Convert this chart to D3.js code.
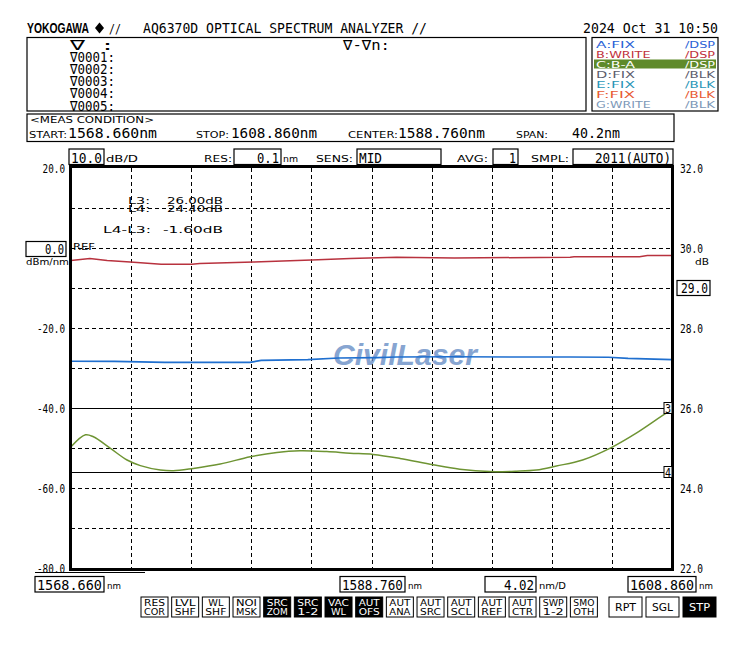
<!DOCTYPE html>
<html><head><meta charset="utf-8">
<script src="https://cdn.jsdelivr.net/npm/d3@7"></script>
<style>html,body{margin:0;padding:0;background:#fff;} svg{display:block}</style>
</head><body><svg id="c" width="734" height="652"></svg>
<script>
// ---------------- DATA ----------------
// Trace A (FIX, blue) – dBm/nm, left scale
const traceA_wl  = [1568.66, 1571.57, 1574.94, 1580.63, 1581.38, 1584.50, 1586.56, 1589.13, 1590.44, 1594.30, 1599.48, 1602.05, 1604.62, 1605.92, 1608.86];
const traceA_dbm = [-28.30, -28.35, -28.60, -28.60, -28.10, -27.90, -27.50, -27.40, -27.25, -27.20, -27.25, -27.25, -27.30, -27.60, -27.90];
// Trace B (WRITE, red) – dBm/nm, left scale
const traceB_wl  = [1568.66, 1569.92, 1571.08, 1572.62, 1574.69, 1576.75, 1577.27, 1580.88, 1584.75, 1587.34, 1590.44, 1594.30, 1602.05, 1602.31, 1606.69, 1607.21, 1608.86];
const traceB_dbm = [-3.10, -2.65, -3.10, -3.50, -4.05, -4.05, -3.85, -3.50, -3.00, -2.60, -2.30, -2.50, -2.30, -2.20, -2.20, -1.90, -1.90];
// Trace C (B-A, green) – dB, right scale
const traceC_wl  = [1568.66, 1569.63, 1570.16, 1571.30, 1572.41, 1573.30, 1574.64, 1575.50, 1576.84, 1578.64, 1580.65, 1582.43, 1583.99, 1585.77, 1587.32, 1588.86, 1590.66, 1592.87, 1594.67, 1596.67, 1598.46, 1599.79, 1601.13, 1602.88, 1604.80, 1606.47, 1608.47, 1608.86];
const traceC_db  = [25.03, 25.33, 25.28, 24.99, 24.70, 24.56, 24.45, 24.43, 24.49, 24.60, 24.78, 24.89, 24.93, 24.91, 24.87, 24.84, 24.74, 24.58, 24.47, 24.41, 24.42, 24.45, 24.55, 24.70, 25.01, 25.37, 25.87, 25.95];
// Line markers (right scale, dB)
const markerNames = ["3", "4"];
const markerVals  = [26.00, 24.40];
// Axis ranges / tick labels
const wlRange = [1568.66, 1608.86];
const leftRange = [-80, 20];
const rightRange = [22, 32];
const leftTickLabels = [20, 0, -20, -40, -60, -80];
const rightTickLabels = [32, 30, 28, 26, 24, 22];
const markerRows = ["∇    :", "∇0001:", "∇0002:", "∇0003:", "∇0004:", "∇0005:"];
const traceNames = ["A:FIX", "B:WRITE", "C:B-A", "D:FIX", "E:FIX", "F:FIX", "G:WRITE"];
const traceModes = ["/DSP", "/DSP", "/DSP", "/BLK", "/BLK", "/BLK", "/BLK"];
const traceColors = ["#2a62d6", "#c0303c", "#ffffff", "#5c5c6c", "#2a96b8", "#e85a32", "#7c98b8"];
const buttons = [["RES","COR"],["LVL","SHF"],["WL","SHF"],["NOI","MSK"],["SRC","ZOM"],["SRC","1-2"],["VAC","WL"],["AUT","OFS"],["AUT","ANA"],["AUT","SRC"],["AUT","SCL"],["AUT","REF"],["AUT","CTR"],["SWP","1-2"],["SMO","OTH"]];
const buttonDark = [0,0,0,0,1,1,1,1,0,0,0,0,0,0,0];
const bigButtons = ["RPT", "SGL", "STP"];
const bigButtonDark = [0, 0, 1];

// ---------------- HELPERS ----------------
const MONO = "'DejaVu Sans Mono', monospace";
const SANS = "'DejaVu Sans', sans-serif";
const svg = d3.select('#c');
svg.append('rect').attr('width',734).attr('height',652).attr('fill','#fff');

function T(x, y, s, o = {}) {
  const t = svg.append('text').attr('x', x).attr('y', y).text(s)
    .attr('font-family', o.f || MONO).attr('font-size', o.s || 14)
    .attr('fill', o.c || '#000').attr('text-anchor', o.a || 'start');
  if (o.w) t.attr('font-weight', o.w);
  if (o.st) t.attr('font-style', o.st);
  if (o.len) t.attr('textLength', o.len).attr('lengthAdjust', 'spacingAndGlyphs');
  if (o.op) t.attr('opacity', o.op);
  return t;
}
function B(x, y, w, h, fill = '#fff', sw = 1.2, stroke = '#000') {
  return svg.append('rect').attr('x', x).attr('y', y).attr('width', w).attr('height', h)
    .attr('fill', fill).attr('stroke', stroke).attr('stroke-width', sw);
}

// ---------------- HEADER ----------------
T(27, 33, "YOKOGAWA", {f: "'Liberation Sans', Arial, sans-serif", s: 14.5, w: 'bold', len: 62});
svg.append('path').attr('d', 'M99.5,22.5 L104,28 L99.5,33.5 L95,28 Z').attr('fill', '#000');
T(109, 33, "//", {s: 13, len: 12});
T(143, 33, "AQ6370D OPTICAL SPECTRUM ANALYZER //", {s: 14.5, len: 284});
T(718, 33, "2024 Oct 31 10:50", {s: 14.5, a: 'end', len: 135});

// marker box
B(27, 37.5, 559, 73.5);
markerRows.forEach((r, i) => T(70, 49.5 + i * 12.2, r, {s: 14.5, len: 45}));
T(343, 49.5, "∇-∇n:", {s: 14.5, len: 47});

// trace box
B(592, 37.5, 126, 73.5);
svg.append('rect').attr('x', 594).attr('y', 59.5).attr('width', 122).attr('height', 9).attr('fill', '#5f8a2a');
traceNames.forEach((n, i) => {
  const yb = 47.8 + i * 10;
  T(596, yb, n, {f: SANS, s: 9.5, c: traceColors[i], len: n.length * 7.8});
  T(715, yb, traceModes[i], {f: SANS, s: 9.5, c: traceColors[i], a: 'end', len: 30});
});

// meas condition box
B(27, 114, 647, 27.5);
T(30, 122.5, "<MEAS CONDITION>", {f: SANS, s: 8.5, len: 124});
T(29, 137.5, "START:", {f: SANS, s: 9, len: 38});
T(68, 137.5, "1568.660nm", {s: 14.5, len: 89});
T(196, 137.5, "STOP:", {f: SANS, s: 9, len: 33});
T(231, 137.5, "1608.860nm", {s: 14.5, len: 86});
T(348, 137.5, "CENTER:", {f: SANS, s: 9, len: 50});
T(398, 137.5, "1588.760nm", {s: 14.5, len: 87});
T(516, 137.5, "SPAN:", {f: SANS, s: 9, len: 32});
T(572, 137.5, "40.2nm", {s: 14.5, len: 48});

// settings row
B(69, 149, 35, 15.5); T(102, 162.5, "10.0", {s: 14.5, a: 'end', len: 31});
T(106, 161.5, "dB/D", {f: SANS, s: 9.5, len: 32});
T(204, 161.5, "RES:", {f: SANS, s: 9.5, len: 28});
B(234, 149, 47, 15.5); T(279, 162.5, "0.1", {s: 14.5, a: 'end', len: 22});
T(283, 161.5, "nm", {f: SANS, s: 9.5, len: 15});
T(316, 161.5, "SENS:", {f: SANS, s: 9.5, len: 37});
B(357, 149, 84, 15.5); T(359, 162.5, "MID", {s: 14.5, len: 23});
T(457, 161.5, "AVG:", {f: SANS, s: 9.5, len: 31});
B(493, 149, 25, 15.5); T(516, 162.5, "1", {s: 14.5, a: 'end', len: 7});
T(531, 161.5, "SMPL:", {f: SANS, s: 9.5, len: 38});
B(573, 149, 100, 15.5); T(671, 162.5, "2011(AUTO)", {s: 14.5, a: 'end', len: 76});

// ---------------- PLOT ----------------
const L = 71, R = 672, TOP = 168, BOT = 568;
const x = d3.scaleLinear().domain(wlRange).range([L, R]);
const yL = d3.scaleLinear().domain(leftRange).range([BOT, TOP]);
const yR = d3.scaleLinear().domain(rightRange).range([BOT, TOP]);

const grid = svg.append('g').attr('stroke', '#000').attr('stroke-width', 1).attr('stroke-dasharray', '4,3');
const xt = d3.range(1, 10).map(i => wlRange[0] + i * (wlRange[1] - wlRange[0]) / 10);
grid.selectAll('.v').data(xt).join('line')
  .attr('x1', d => Math.round(x(d)) + 0.5).attr('x2', d => Math.round(x(d)) + 0.5)
  .attr('y1', TOP).attr('y2', BOT);
const yt = d3.range(leftRange[0] + 10, leftRange[1], 10).filter(v => Math.abs(yR.invert(yL(v)) - markerVals[0]) > 0.01);
grid.selectAll('.h').data(yt).join('line')
  .attr('x1', L).attr('x2', R)
  .attr('y1', d => Math.round(yL(d)) + 0.5).attr('y2', d => Math.round(yL(d)) + 0.5);

// marker lines
svg.selectAll('.mk').data(markerVals).join('line')
  .attr('x1', L).attr('x2', R)
  .attr('y1', d => Math.round(yR(d)) + 0.5).attr('y2', d => Math.round(yR(d)) + 0.5)
  .attr('stroke', '#000').attr('stroke-width', 1.2);

// watermark
T(405, 365, "CivilLaser", {f: "'Liberation Sans', Arial, sans-serif", s: 29, w: 'bold', st: 'italic', c: '#6a8fc6', a: 'middle', len: 144, op: 0.8});

// traces
const lineL = d3.line().x(d => x(d[0])).y(d => yL(d[1]));
const lineR = d3.line().x(d => x(d[0])).y(d => yR(d[1])).curve(d3.curveCatmullRom);
svg.append('path').attr('d', lineL(d3.zip(traceA_wl, traceA_dbm)))
  .attr('fill', 'none').attr('stroke', '#1f6fcf').attr('stroke-width', 1.6);
svg.append('path').attr('d', lineL(d3.zip(traceB_wl, traceB_dbm)))
  .attr('fill', 'none').attr('stroke', '#b8323e').attr('stroke-width', 1.5);
svg.append('path').attr('d', lineR(d3.zip(traceC_wl, traceC_db)))
  .attr('fill', 'none').attr('stroke', '#6e9433').attr('stroke-width', 1.5);

// frame
svg.append('g').attr('stroke', '#000').attr('stroke-width', 3).selectAll('line')
  .data([[L-0.5, 166, L-0.5, 571], [R+0.5, 166, R+0.5, 571], [L-2, 166.5, R+2, 166.5], [L-2, 569.5, R+2, 569.5]])
  .join('line').attr('x1', d => d[0]).attr('y1', d => d[1]).attr('x2', d => d[2]).attr('y2', d => d[3]);

// marker tags
markerVals.forEach((v, i) => {
  const yy = Math.round(yR(v));
  B(664, yy - 5.5, 8, 11, '#fff', 1);
  T(668, yy + 4.5, markerNames[i], {s: 12, a: 'middle', len: 6});
});

// marker readout
T(128, 203.5, "L3:", {f: SANS, s: 8, len: 22});
T(167, 203.5, "26.00dB", {f: SANS, s: 8, len: 56});
T(128, 211.5, "L4:", {f: SANS, s: 8, len: 22});
T(167, 211.5, "24.40dB", {f: SANS, s: 8, len: 56});
T(103, 233, "L4-L3:", {f: SANS, s: 9, len: 48});
T(163, 233, "-1.60dB", {f: SANS, s: 9, len: 60});

// left axis
const axL = d3.axisLeft(yL).tickValues(leftTickLabels).tickSize(0).tickPadding(0).tickFormat(d => d.toFixed(1));
const gL = svg.append('g').attr('transform', 'translate(65,0)').call(axL);
gL.select('.domain').remove();
gL.selectAll('text').attr('font-family', MONO).attr('font-size', 12.5).attr('fill', '#000')
  .attr('dy', null).attr('y', 4.6)
  .attr('textLength', d => d.toFixed(1).length * 5.6).attr('lengthAdjust', 'spacingAndGlyphs')
  .filter(d => d === 0).remove();
B(26, 241.5, 40, 15);
T(64, 253.5, "0.0", {s: 14, a: 'end', len: 19});
T(26, 264.5, "dBm/nm", {f: SANS, s: 8.5, len: 43});
T(73, 249.5, "REF", {f: SANS, s: 8.5, len: 22});

// right axis
const axR = d3.axisRight(yR).tickValues(rightTickLabels).tickSize(0).tickPadding(0).tickFormat(d => d.toFixed(1));
const gR = svg.append('g').attr('transform', 'translate(680,0)').call(axR);
gR.select('.domain').remove();
gR.selectAll('text').attr('font-family', MONO).attr('font-size', 12.5).attr('fill', '#000')
  .attr('dy', null).attr('y', 4.6)
  .attr('textLength', 23).attr('lengthAdjust', 'spacingAndGlyphs');
T(695, 264.5, "dB", {f: SANS, s: 8.5, len: 14});
B(677, 280.5, 33, 15);
T(708, 292.5, "29.0", {s: 14, a: 'end', len: 27});

// bottom labels
svg.append('line').attr('x1', 35).attr('x2', 145).attr('y1', 572.5).attr('y2', 572.5).attr('stroke', '#000').attr('stroke-width', 1);
B(35, 576.5, 69, 15.5); T(37, 589.5, "1568.660", {s: 14.5, len: 65});
T(107, 589, "nm", {f: SANS, s: 9.5, len: 14});
B(340, 576.5, 65, 15.5); T(342, 589.5, "1588.760", {s: 14.5, len: 61});
T(408, 589, "nm", {f: SANS, s: 9.5, len: 14});
B(485, 576.5, 51, 15.5); T(534, 589.5, "4.02", {s: 14.5, a: 'end', len: 30});
T(539, 589, "nm/D", {f: SANS, s: 9.5, len: 27});
B(628, 576.5, 68, 15.5); T(630, 589.5, "1608.860", {s: 14.5, len: 64});
T(699, 589, "nm", {f: SANS, s: 9.5, len: 14});

// buttons
buttons.forEach((b, i) => {
  const bx = 141 + i * 30.67;
  const dark = buttonDark[i];
  B(bx, 597, 27, 20, dark ? '#000' : '#fff', 1);
  T(bx + 13.5, 605.5, b[0], {f: SANS, s: 8.5, a: 'middle', c: dark ? '#fff' : '#000', len: b[0].length > 2 ? 21 : 15});
  T(bx + 13.5, 614.5, b[1], {f: SANS, s: 8.5, a: 'middle', c: dark ? '#fff' : '#000', len: b[1].length > 2 ? 21 : 15});
});
bigButtons.forEach((b, i) => {
  const bx = 609 + i * 37;
  const dark = bigButtonDark[i];
  B(bx, 597, 33, 20, dark ? '#000' : '#fff', 1);
  T(bx + 16.5, 611, b, {f: SANS, s: 10, a: 'middle', c: dark ? '#fff' : '#000', len: 21});
});
</script>
</body></html>
